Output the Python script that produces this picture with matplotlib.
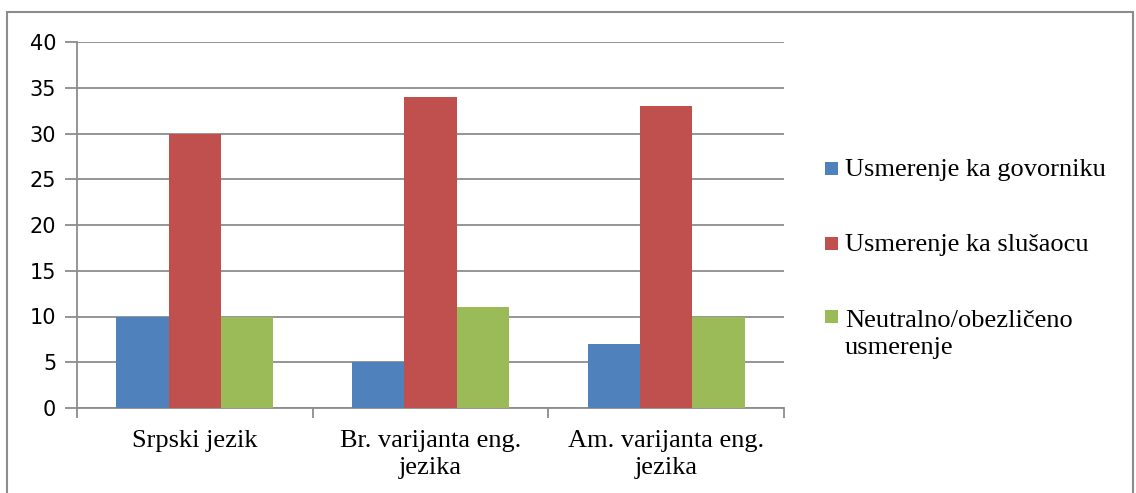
import matplotlib
matplotlib.use("Agg")
import matplotlib.pyplot as plt
import numpy as np
from matplotlib.patches import Rectangle

# chart data
categories = ["Srpski jezik", "Br. varijanta eng.\njezika", "Am. varijanta eng.\njezika"]
series_names = ["Usmerenje ka govorniku", "Usmerenje ka slušaocu",
	"Neutralno/obezličeno\nusmerenje"]
govorniku = [10, 5, 7]
slusaocu = [30, 34, 33]
neutralno = [10, 11, 10]
y_ticks = [0, 5, 10, 15, 20, 25, 30, 35, 40]

colors = ["#4F81BD", "#C0504D", "#9BBB59"]
grid_gray = "#8C8C8C"
serif = ["Liberation Serif", "DejaVu Serif"]

W, H = 1136, 493
fig = plt.figure(figsize=(W/100, H/100), dpi=100)
ax = fig.add_axes([77/W, 1 - 408/H, (784 - 77)/W, (408 - 42)/H])

x = np.arange(len(categories))
width = 1/4.5
for i, (vals, c, name) in enumerate(zip([govorniku, slusaocu, neutralno], colors, series_names)):
	ax.bar(x + (i - 1)*width, vals, width, color=c, label=name, zorder=3, linewidth=0)

ax.set_xlim(-0.5, len(categories) - 0.5)
ax.set_ylim(0, 40)
ax.set_yticks(y_ticks)
ax.yaxis.grid(True, color=grid_gray, linewidth=1.3, zorder=0)
ax.set_axisbelow(True)

# category labels centered, tick marks at the boundaries
ax.set_xticks(x)
ax.set_xticklabels(categories, fontfamily=serif, fontsize=19, linespacing=1.3)
ax.tick_params(axis="x", which="major", length=0, pad=16)
ax.set_xticks(np.arange(len(categories) + 1) - 0.5, minor=True)
ax.tick_params(axis="x", which="minor", length=7, width=1.3, color=grid_gray, direction="out")
ax.tick_params(axis="y", length=9, width=1.3, color=grid_gray, labelsize=15, pad=6)

for s in ["top", "right"]:
	ax.spines[s].set_visible(False)
for s in ["left", "bottom"]:
	ax.spines[s].set_color(grid_gray)
	ax.spines[s].set_linewidth(1.3)

# legend, drawn by hand so the square sits on the first text line
leg_rows = [168, 243, 316]
sq = 13
line_px = 30
for name, c, yc in zip(series_names, colors, leg_rows):
	fig.patches.append(Rectangle((825/W, 1 - (yc + sq/2)/H), sq/W, sq/H,
		transform=fig.transFigure, facecolor=c, edgecolor="none"))
	nlines = name.count("\n")
	fig.text(845/W, 1 - (yc + 8 + nlines*line_px)/H, name, fontfamily=serif, fontsize=19,
		va="baseline", ha="left", linespacing=1.27)

# outer chart border
fig.patches.append(Rectangle((7/W, -0.1), (1133 - 7)/W, 1.1 - 12/H,
	transform=fig.transFigure, fill=False, edgecolor=grid_gray, linewidth=1.5))

fig.savefig("out.png", dpi=100)
